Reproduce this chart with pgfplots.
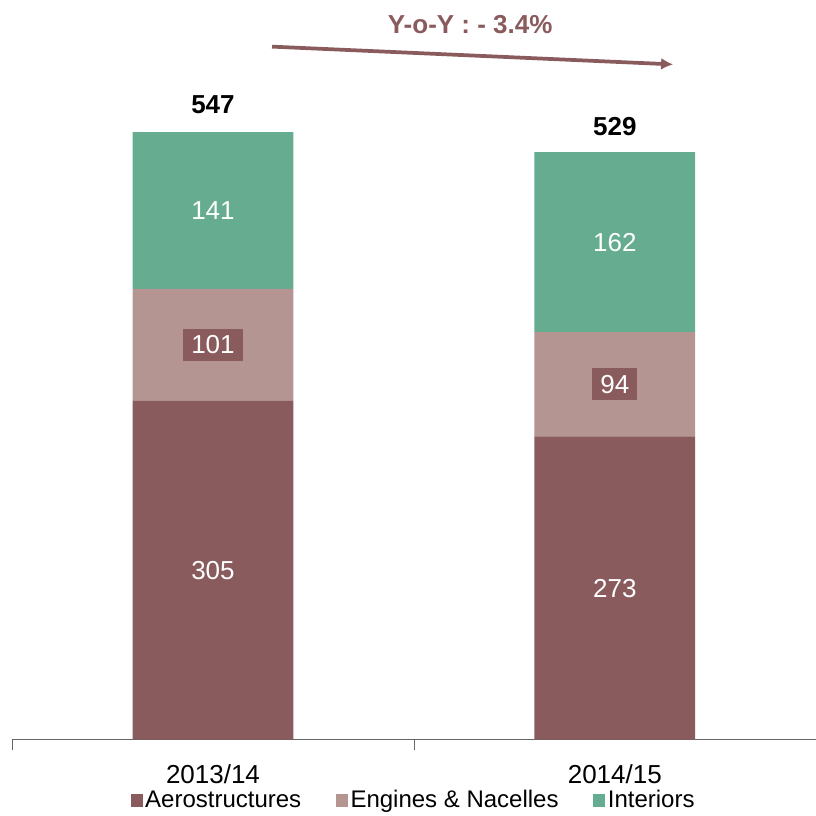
\documentclass[border=0pt]{standalone}
\usepackage{pgfplots}
\pgfplotsset{compat=1.18}
\usetikzlibrary{arrows.meta}
\usepackage{fontspec}
\setmainfont{Liberation Sans}
\definecolor{aero}{HTML}{8A5B5D}
\definecolor{engine}{HTML}{B59592}
\definecolor{inter}{HTML}{66AC91}
\begin{document}
\begin{tikzpicture}[lbl/.style={font=\fontsize{19.5}{19.5}\selectfont, text=white}]
\begin{axis}[
    scale only axis,
    width=603pt, height=555pt,
    xmin=-0.5, xmax=1.5,
    ymin=0, ymax=666,
    axis y line=none,
    axis x line*=bottom,
    axis line style={draw=gray!80!black},
    xtick={0,1},
    xticklabels={2013/14,2014/15},
    major tick length=0pt,
    extra x ticks={-0.5,0.5,1.5},
    extra x tick labels={},
    extra x tick style={major tick length=8pt, tick align=outside,
        x tick label style={overlay}},
    tick style={draw=gray!80!black},
    x tick label style={font=\fontsize{19.5}{19.5}\selectfont, yshift=-15pt},
    ybar stacked,
    bar width=0.4,
    legend style={at={(0.5,-0.061)}, anchor=north, draw=none, legend columns=3,
        font=\fontsize{18}{18}\selectfont,
        /tikz/every even column/.append style={column sep=24pt}},
    legend image code/.code={\fill[#1] (0pt,-4.8pt) rectangle (9pt,4.8pt);},
    clip=false,
]
\addplot[fill=aero, draw=none] coordinates {(0,305) (1,273)};
\addplot[fill=engine, draw=none] coordinates {(0,101) (1,94)};
\addplot[fill=inter, draw=none] coordinates {(0,141) (1,162)};
\legend{Aerostructures,Engines \& Nacelles,Interiors}

\path (rel axis cs:-0.015,0) (rel axis cs:1,1);
\coordinate (a1) at (axis cs:0,152.5);
\coordinate (a2) at (axis cs:1,136.5);
\coordinate (e1) at (axis cs:0,355.5);
\coordinate (e2) at (axis cs:1,320);
\coordinate (i1) at (axis cs:0,476.5);
\coordinate (i2) at (axis cs:1,448);
\coordinate (t1) at (axis cs:0,572);
\coordinate (t2) at (axis cs:1,552);
\coordinate (yoy) at (axis cs:0.64,644);
\coordinate (ar1) at (axis cs:0.147,624);
\coordinate (ar2) at (axis cs:1.145,608);
\end{axis}
\node[lbl] at (a1) {305};
\node[lbl] at (a2) {273};
\node[lbl, fill=aero, inner xsep=6pt, inner ysep=5pt] at (e1) {101};
\node[lbl, fill=aero, inner xsep=6pt, inner ysep=5pt] at (e2) {94};
\node[lbl] at (i1) {141};
\node[lbl] at (i2) {162};
\node[font=\bfseries\fontsize{19.5}{19.5}\selectfont] at (t1) {547};
\node[font=\bfseries\fontsize{19.5}{19.5}\selectfont] at (t2) {529};
\node[font=\bfseries\fontsize{19.5}{19.5}\selectfont, text=aero] at (yoy) {Y-o-Y : - 3.4\%};
\draw[aero, line width=2.8pt, -{Latex[length=9pt,width=9pt]}] (ar1) -- (ar2);
\end{tikzpicture}
\end{document}
